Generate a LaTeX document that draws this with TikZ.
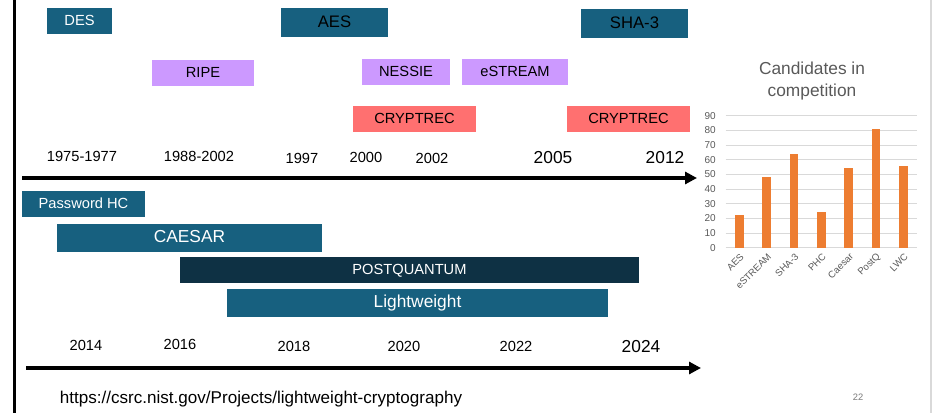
\documentclass[tikz,border=0pt]{standalone}
\usepackage{fontspec}
\setmainfont{Liberation Sans}
\usetikzlibrary{arrows.meta}

\definecolor{tealc}{HTML}{17607F}
\definecolor{navyc}{HTML}{0E3144}
\definecolor{lilac}{HTML}{CC99FF}
\definecolor{salmon}{HTML}{FF7070}
\definecolor{barc}{HTML}{ED7D31}
\definecolor{gridc}{HTML}{D9D9D9}
\definecolor{axisc}{HTML}{595959}

\newcommand\fsz[1]{\fontsize{#1}{#1}\selectfont}

\tikzset{
  band/.style 2 args={inner sep=0pt, draw=none, minimum width=#1pt, minimum height=#2pt,
    text height=0.72em, text depth=0pt},
  tealbox/.style={fill=tealc},
  navybox/.style={fill=navyc},
  lilacbox/.style={fill=lilac},
  redbox/.style={fill=salmon},
  yearlbl/.style={inner sep=0pt, font=\fsz{11}},
  bigyear/.style={inner sep=0pt, font=\fsz{13}},
  timeline/.style={line width=3pt, -{Triangle[length=9pt,width=9pt]}},
  ticklbl/.style={inner sep=0pt, anchor=east, text=axisc, font=\fsz{7.5}},
  catlbl/.style={inner sep=0pt, anchor=east, rotate=45, text=axisc, font=\fsz{7.2}},
}

\begin{document}
\begin{tikzpicture}[x=0.75pt,y=-0.75pt]
\useasboundingbox (0,0) rectangle (932,413);

% frame edges
\draw[line width=1.8pt] (14.5,0) -- (14.5,413);
\draw[gridc, line width=0.8pt] (931,0) -- (931,413);

% ---- early competitions ----
\node[band={48.75}{19.5}, tealbox, text=white, font=\fsz{11}] (des) at (79.5,21) {DES};
\node[band={80.25}{21.75}, tealbox, font=\fsz{12.5}] (aes) at (334.5,22.5) {AES};
\node[band={80.25}{21.75}, tealbox, font=\fsz{12.5}] (sha) at (634.5,23.5) {SHA-3};
\node[band={76.5}{19.5}, lilacbox, font=\fsz{11}] (ripe) at (203,73) {RIPE};
\node[band={66}{19.5}, lilacbox, font=\fsz{11}] (nessie) at (406,72) {NESSIE};
\node[band={79.5}{19.5}, lilacbox, font=\fsz{11}] (estream) at (515,72) {eSTREAM};
\node[band={92.25}{19.5}, redbox, font=\fsz{11}] (crypA) at (414.5,119) {CRYPTREC};
\node[band={92.25}{19.5}, redbox, font=\fsz{11}] (crypB) at (628.5,119) {CRYPTREC};

% years of the first timeline
\node[yearlbl] (y1975) at (82,156) {1975-1977};
\node[yearlbl] (y1988) at (199,156) {1988-2002};
\node[yearlbl] (y1997) at (302,158) {1997};
\node[yearlbl] (y2000) at (366,157) {2000};
\node[yearlbl] (y2002) at (432,158) {2002};
\node[bigyear] (y2005) at (553,158) {2005};
\node[bigyear] (y2012) at (665,158) {2012};

\coordinate (ta) at (22,178);
\coordinate (tb) at (697,178);
\draw[timeline] (ta) -- (tb);

% ---- recent competitions ----
\node[band={92.25}{19.5}, tealbox, text=white, font=\fsz{11}] (phc) at (83.5,204) {Password HC};
\node[band={198.75}{21}, tealbox, text=white, font=\fsz{13}] (caesar) at (189.5,238) {CAESAR};
\node[band={344.25}{19.5}, navybox, text=white, font=\fsz{11}] (pq) at (409.5,270) {POSTQUANTUM};
\node[band={285.75}{21}, tealbox, text=white, font=\fsz{13}] (lw) at (417.5,303) {Lightweight};

% years of the second timeline
\node[yearlbl] (y2014) at (86,345) {2014};
\node[yearlbl] (y2016) at (180,344) {2016};
\node[yearlbl] (y2018) at (294,346) {2018};
\node[yearlbl] (y2020) at (404,346) {2020};
\node[yearlbl] (y2022) at (516,346) {2022};
\node[bigyear] (y2024) at (641,347) {2024};

\coordinate (ba) at (26,368);
\coordinate (bb) at (701,368);
\draw[timeline] (ba) -- (bb);

\node[inner sep=0pt, font=\fsz{12.8}] (url) at (261,399) {https://csrc.nist.gov/Projects/lightweight-cryptography};
\node[inner sep=0pt, text=axisc!80, font=\fsz{7}] (page) at (858,397) {22};

% ---- bar chart: candidates per competition ----
\node[inner sep=0pt, align=center, text=axisc, font=\fsz{13}] (ctitle) at (812,81) {Candidates in\\[3pt]competition};

\foreach \v in {0,10,...,90} {
  \draw[gridc, line width=0.75pt] (725.7,{247.7-1.4667*\v}) -- (917,{247.7-1.4667*\v});
  \node[ticklbl] at (716,{247.7-1.4667*\v}) {\v};
}
\foreach \i/\val/\name in {0/22/AES,1/48/eSTREAM,2/64/SHA-3,3/24/PHC,4/54/Caesar,5/81/PostQ,6/56/LWC} {
  \pgfmathsetmacro\cx{725.7+27.33*(\i+0.5)}
  \fill[barc] ({\cx-4.4},247.7) rectangle ({\cx+4.4},{247.7-1.4667*\val});
  \node[catlbl] at ({\cx+3},255) {\name};
}
\end{tikzpicture}
\end{document}
